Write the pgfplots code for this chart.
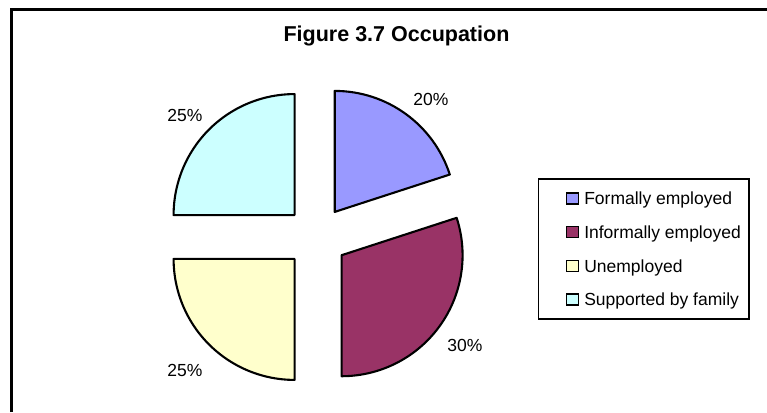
\documentclass[border=0pt]{standalone}
\usepackage{pgfplots}
\usepackage{pgfplotstable}
\pgfplotsset{compat=1.18}
\usetikzlibrary{calc}
\usepackage{fontspec}
\setmainfont{Liberation Sans}

\definecolor{cFormal}{HTML}{9999FF}
\definecolor{cInformal}{HTML}{993366}
\definecolor{cUnemp}{HTML}{FFFFCC}
\definecolor{cFamily}{HTML}{CCFFFF}

\pgfplotstableread{
value
20
30
25
25
}\piedata

% slice: start angle, end angle, colour
\newcommand\pieslice[3]{%
  \draw[fill=#3, draw=black, line width=2.1pt, line join=round]
    ($(axis cs:316.5,175)+({(#1+#2)/2}:31pt)$) -- ++(#1:121pt)
    arc[start angle=#1, end angle=#2, radius=121pt] -- cycle;
}

\begin{document}
\begin{tikzpicture}
\pgfplotstablegetelem{0}{value}\of\piedata \let\vA\pgfplotsretval
\pgfplotstablegetelem{1}{value}\of\piedata \let\vB\pgfplotsretval
\pgfplotstablegetelem{2}{value}\of\piedata \let\vC\pgfplotsretval
\pgfplotstablegetelem{3}{value}\of\piedata \let\vD\pgfplotsretval
\pgfmathsetmacro\aA{90}
\pgfmathsetmacro\aB{\aA-3.6*\vA}
\pgfmathsetmacro\aC{\aB-3.6*\vB}
\pgfmathsetmacro\aD{\aC-3.6*\vC}
\pgfmathsetmacro\aE{\aD-3.6*\vD}
\begin{axis}[
  at={(0pt,0pt)}, anchor=origin,
  x=1pt, y=1pt,
  xmin=0, xmax=767, ymin=0, ymax=412,
  hide axis, clip=false,
  legend style={
    at={(axis cs:537.5,233.5)}, anchor=north west,
    draw=black, line width=1.5pt, fill=white,
    inner xsep=8pt, inner ysep=9.5pt,
    row sep=14.2pt,
    font=\fontsize{17.5}{20}\selectfont,
    nodes={inner sep=0pt, text height=16pt, text depth=3.5pt},
  },
  legend cell align=left,
  legend image code/.code={%
    \path (-19.5pt,0pt) (17pt,0pt);
    \draw[#1,line width=1.6pt] (0pt,-5.5pt) rectangle (12pt,5.5pt);
  },
]
% outer frame: only its left and top edges lie within the picture
\draw[line width=2.2pt, black, line join=miter] (axis cs:11.5,0) -- (axis cs:11.5,402.5) -- (axis cs:767,402.5);

\pieslice{\aA}{\aB}{cFormal}
\pieslice{\aB}{\aC}{cInformal}
\pieslice{\aC}{\aD}{cUnemp}
\pieslice{\aD}{\aE}{cFamily}

\addlegendimage{fill=cFormal, draw=black}
\addlegendentry{Formally employed}
\addlegendimage{fill=cInformal, draw=black}
\addlegendentry{Informally employed}
\addlegendimage{fill=cUnemp, draw=black}
\addlegendentry{Unemployed}
\addlegendimage{fill=cFamily, draw=black}
\addlegendentry{Supported by family}

\node[font=\fontsize{17.5}{20}\selectfont] at (axis cs:431,313) {\vA\%};
\node[font=\fontsize{17.5}{20}\selectfont] at (axis cs:465,67) {\vB\%};
\node[font=\fontsize{17.5}{20}\selectfont] at (axis cs:185,42) {\vC\%};
\node[font=\fontsize{17.5}{20}\selectfont] at (axis cs:185,297) {\vD\%};

\node[anchor=base, font=\fontsize{21.5}{24}\selectfont\bfseries] at (axis cs:396.5,370) {Figure 3.7 Occupation};
\end{axis}
\pgfresetboundingbox
\path[use as bounding box] (0pt,0pt) rectangle (767pt,412pt);
\end{tikzpicture}
\end{document}
